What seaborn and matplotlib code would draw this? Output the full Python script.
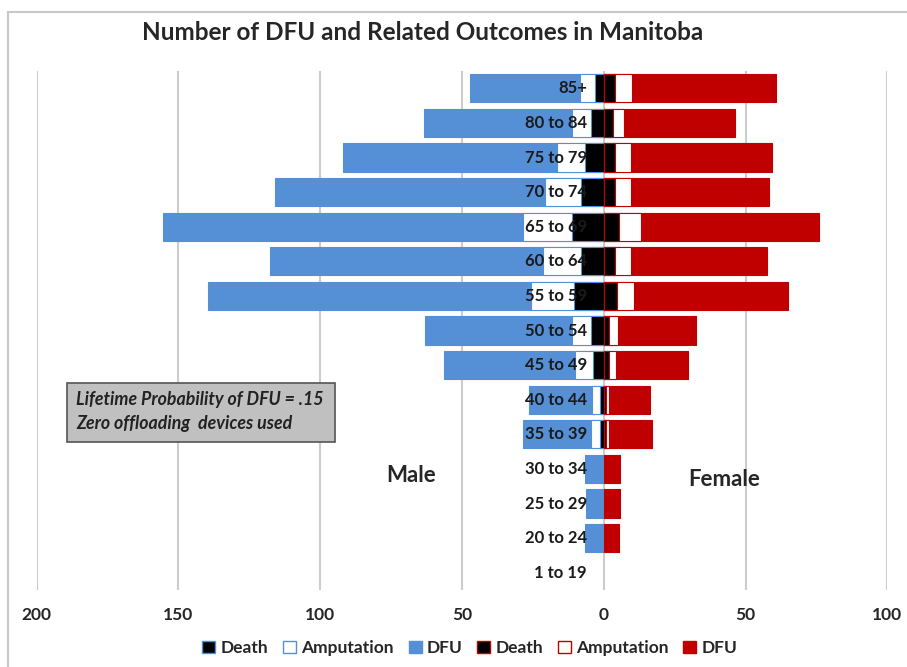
import matplotlib
matplotlib.use("Agg")
import matplotlib.pyplot as plt
from matplotlib.patches import Patch, Rectangle
import seaborn as sns
import pandas as pd

# age groups, top to bottom
age_groups = ['85+', '80 to 84', '75 to 79', '70 to 74', '65 to 69', '60 to 64',
              '55 to 59', '50 to 54', '45 to 49', '40 to 44', '35 to 39',
              '30 to 34', '25 to 29', '20 to 24', '1 to 19']

# male counts (stacked segments)
male_death = [3.1, 4.5, 6.6, 8.2, 11.2, 8.2, 10.4, 4.5, 3.7, 1.4, 1.4, 0, 0, 0, 0]
male_amputation = [5.3, 6.8, 10.0, 12.7, 17.2, 13.1, 15.3, 6.7, 6.5, 2.9, 3.1, 0, 0, 0, 0]
male_dfu = [38.9, 52.0, 75.3, 95.0, 127.1, 96.4, 113.9, 51.7, 46.3, 22.2, 24.1, 6.7, 6.4, 6.7, 0]

# female counts (stacked segments)
female_death = [4.0, 3.2, 4.0, 4.0, 5.2, 4.0, 4.6, 2.0, 1.8, 0.8, 0.8, 0, 0, 0, 0]
female_amputation = [6.0, 4.1, 5.7, 5.7, 7.9, 5.7, 6.2, 2.9, 2.6, 1.1, 1.1, 0, 0, 0, 0]
female_dfu = [50.8, 39.0, 49.7, 48.6, 62.9, 47.9, 54.2, 27.6, 25.3, 14.4, 15.1, 5.7, 5.7, 5.3, 0]

x_ticks = [-200, -150, -100, -50, 0, 50, 100]

BLUE = '#5590d6'
RED = '#c00000'

df = pd.DataFrame({'age': age_groups,
                   'm_d': male_death, 'm_a': male_amputation, 'm_f': male_dfu,
                   'f_d': female_death, 'f_a': female_amputation, 'f_f': female_dfu})
# cumulative extents for layered drawing (outermost first)
df['m_tot'] = -(df.m_d + df.m_a + df.m_f)
df['m_da'] = -(df.m_d + df.m_a)
df['m_d0'] = -df.m_d
df['f_tot'] = df.f_d + df.f_a + df.f_f
df['f_da'] = df.f_d + df.f_a
df['f_d0'] = df.f_d

sns.set_theme(style='white')
plt.rcParams['font.family'] = ['Lato', 'DejaVu Sans']

fig = plt.figure(figsize=(9.07, 6.67), dpi=100)
ax = fig.add_axes([36.7 / 907, 1 - 590 / 667, (887.3 - 36.7) / 907, (590 - 71) / 667])

w = 0.81
layers = [('m_tot', BLUE, BLUE), ('m_da', 'white', BLUE), ('m_d0', 'black', BLUE),
          ('f_tot', RED, RED), ('f_da', 'white', RED), ('f_d0', 'black', RED)]
for col, fc, ec in layers:
    sub = df[df[col] != 0]
    sns.barplot(data=sub, x=col, y='age', order=age_groups, orient='h', ax=ax,
                color=fc, saturation=1, width=w, edgecolor=ec, linewidth=0.8, zorder=3)

ax.set_xlim(-200, 100)
ax.set_ylim(len(age_groups) - 0.5, -0.5)
ax.set_xticks(x_ticks)
ax.set_xticklabels([str(abs(t)) for t in x_ticks], fontsize=12.5, fontweight='bold')
ax.tick_params(axis='x', length=0, pad=12)
ax.set_yticks([])
ax.set_xlabel('')
ax.set_ylabel('')
ax.grid(axis='x', color='#cccccc', linewidth=1.5, zorder=0)
ax.grid(axis='y', visible=False)
for s in ax.spines.values():
    s.set_visible(False)

# age labels inside the chart
for i, lab in enumerate(age_groups):
    ax.text(-6, i, lab, ha='right', va='center', fontsize=12, fontweight='bold',
            color='#1a1a1a', zorder=5)

ax.text(-68, 11.2, 'Male', ha='center', va='center', fontsize=16, fontweight='bold')
ax.text(42.5, 11.3, 'Female', ha='center', va='center', fontsize=16, fontweight='bold')

fig.text(423 / 907, 1 - 33 / 667, 'Number of DFU and Related Outcomes in Manitoba',
         ha='center', va='center', fontsize=17.5, fontweight='bold')

# annotation box
fig.patches.append(Rectangle((67 / 907, 1 - 442 / 667), 268 / 907, 59 / 667,
                             transform=fig.transFigure, facecolor='#c0c0c0',
                             edgecolor='#555555', linewidth=1.2, zorder=6))
fig.text(76 / 907, 1 - 400 / 667, 'Lifetime Probability of DFU = .15', fontsize=12.8,
         style='italic', fontweight='bold', color='#222222', va='center', zorder=7)
fig.text(76 / 907, 1 - 423 / 667, 'Zero offloading  devices used', fontsize=12.8,
         style='italic', fontweight='bold', color='#222222', va='center', zorder=7)

# outer chart frame
fig.patches.append(Rectangle((8 / 907, -0.05), 1.1, 1.05 - 12 / 667,
                             transform=fig.transFigure, facecolor='none',
                             edgecolor='#c8c8c8', linewidth=1.5))

handles = [Patch(facecolor='black', edgecolor=BLUE, label='Death'),
           Patch(facecolor='white', edgecolor=BLUE, label='Amputation'),
           Patch(facecolor=BLUE, edgecolor=BLUE, label='DFU'),
           Patch(facecolor='black', edgecolor=RED, label='Death'),
           Patch(facecolor='white', edgecolor=RED, label='Amputation'),
           Patch(facecolor=RED, edgecolor=RED, label='DFU')]
fig.legend(handles=handles, loc='center', bbox_to_anchor=(470 / 907, 1 - 648 / 667),
           ncol=6, frameon=False, handlelength=0.75, handleheight=0.75,
           handletextpad=0.3, columnspacing=0.85, prop={'weight': 'bold', 'size': 12.5})

fig.savefig('out.png', dpi=100, facecolor='white')
